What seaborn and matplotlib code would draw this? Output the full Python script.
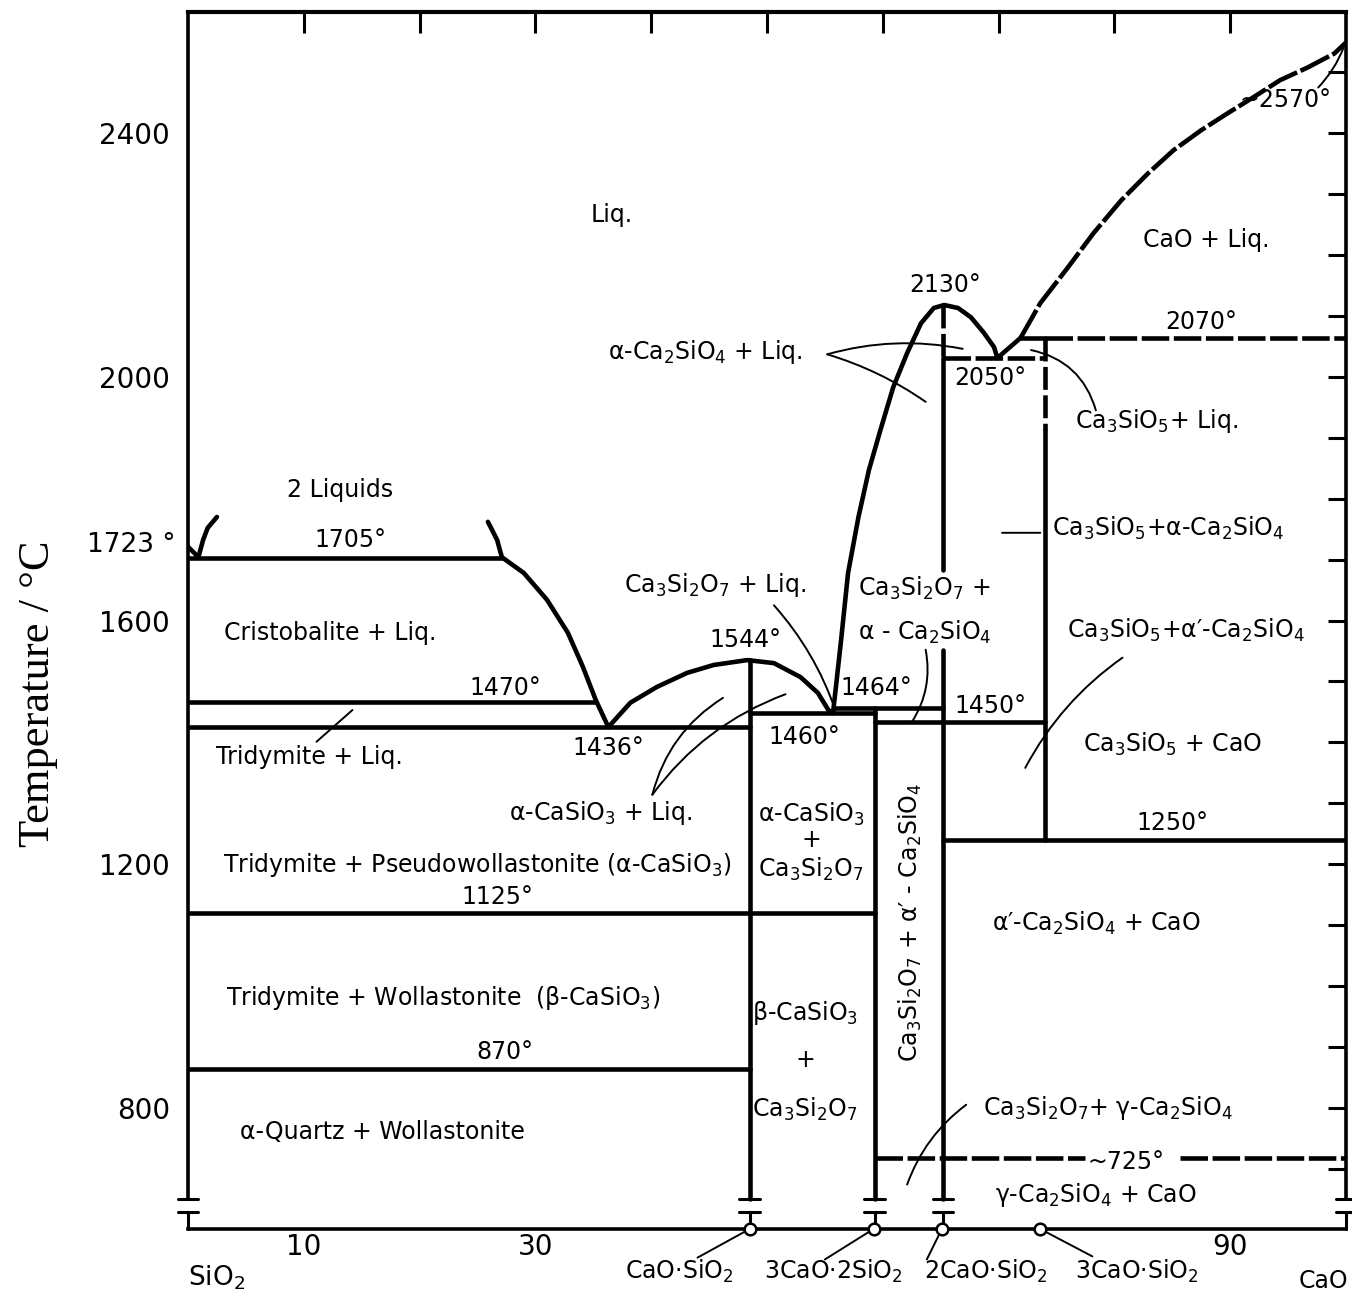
import numpy as np
import pandas as pd
import matplotlib
matplotlib.use('Agg')
import matplotlib.pyplot as plt
import seaborn as sns

sns.set_style('white')
plt.rcParams['font.family'] = ['DejaVu Sans']
plt.rcParams['mathtext.default'] = 'regular'
for key in ['text.color', 'xtick.color', 'ytick.color', 'axes.labelcolor', 'axes.edgecolor']:
    plt.rcParams[key] = 'black'
plt.rcParams['lines.solid_joinstyle'] = 'round'
plt.rcParams['lines.dash_joinstyle'] = 'round'

# compound compositions, wt% CaO
CS_X, C3S2_X, C2S_X, C3S_X = 48.5, 59.3, 65.2, 74.0
compound_x = [48.5, 59.2, 65.1, 73.6]

# liquidus curves and other boundaries (wt% CaO, deg C)
sio2_x = [0.0, 0.9]
sio2_t = [1721, 1704]
gap_left_x = [0.9, 1.3, 1.7, 2.5]
gap_left_t = [1704, 1732, 1752, 1770]
gap_right_x = [27.1, 26.7, 25.9]
gap_right_t = [1704, 1732, 1762]
cristo_x = [27.1, 29.0, 31.0, 32.8, 34.1, 35.2, 36.3]
cristo_t = [1704, 1678, 1634, 1580, 1524, 1470, 1425]
cs_liq_x = [36.3, 38.2, 40.5, 43.1, 45.4, 48.3, 50.6, 52.9, 54.4, 55.3, 55.7]
cs_liq_t = [1425, 1465, 1491, 1514, 1527, 1535, 1530, 1507, 1481, 1453, 1448]
c2s_liq_x = [55.7, 56.4, 57.0, 57.9, 58.8, 59.8, 60.9, 62.1, 63.3, 64.4, 65.3,
             66.5, 67.6, 68.7, 69.6, 69.9]
c2s_liq_t = [1448, 1568, 1678, 1770, 1847, 1913, 1983, 2039, 2088, 2113, 2118,
             2113, 2098, 2073, 2049, 2031]
c3s_liq_x = [69.9, 71.9]
c3s_liq_t = [2031, 2064]
cao_liq_x = [71.9, 73.6, 76.0, 78.2, 80.6, 82.9, 85.1, 87.5, 89.8, 92.0, 94.3, 96.7, 99.0, 100.0]
cao_liq_t = [2064, 2121, 2180, 2236, 2290, 2334, 2372, 2405, 2433, 2459, 2487, 2508, 2531, 2549]

# isotherms: temperature, start, end
iso_t = [1703, 1466, 1425, 1448, 1456, 1434, 1240, 1120, 864, 2064]
iso_x0 = [0.0, 0.0, 0.0, 48.5, 55.9, 59.3, 65.2, 0.0, 0.0, 71.9]
iso_x1 = [27.1, 35.2, 48.5, 59.3, 65.2, 74.0, 100.0, 59.3, 48.5, 74.0]
# dashed isotherms
dash_t = [718, 718, 2064, 2031]
dash_x0 = [59.3, 85.7, 74.0, 65.2]
dash_x1 = [77.5, 100.0, 100.0, 74.0]

# compound verticals (x, top, bottom)
vert_x = [48.5, 59.3, 65.2, 65.2, 74.0]
vert_top = [1535, 1456, 2031, 1552, 1913]
vert_bot = [650, 650, 1683, 650, 1240]
vdash_x = [65.2, 74.0]
vdash_top = [2118, 2064]
vdash_bot = [2031, 1913]

T_LO, T_HI = 601, 2599
BREAK_T = 650

fig = plt.figure(figsize=(13.52, 12.96), dpi=100)
ax = fig.add_axes([188 / 1352, 1 - 1229 / 1296, 1158 / 1352, 1217 / 1296])
ax.set_xlim(0, 100)
ax.set_ylim(T_LO, T_HI)


def boundary(x, t, lw=3.3, ls='-'):
    sns.lineplot(x=x, y=t, ax=ax, color='black', lw=lw, linestyle=ls,
                 estimator=None, sort=False, legend=False)


for xs, ts in [(sio2_x, sio2_t), (gap_left_x, gap_left_t), (gap_right_x, gap_right_t),
               (cristo_x, cristo_t), (cs_liq_x, cs_liq_t), (c2s_liq_x, c2s_liq_t),
               (c3s_liq_x, c3s_liq_t)]:
    boundary(xs, ts)
boundary(cao_liq_x, cao_liq_t, ls=(0, (7, 0.8)))

for t, x0, x1 in zip(iso_t, iso_x0, iso_x1):
    boundary([x0, x1], [t, t])
for t, x0, x1 in zip(dash_t, dash_x0, dash_x1):
    boundary([x0, x1], [t, t], ls=(0, (6, 1.0)))
for x, t0, t1 in zip(vert_x, vert_top, vert_bot):
    boundary([x, x], [t0, t1])
for x, t0, t1 in zip(vdash_x, vdash_top, vdash_bot):
    boundary([x, x], [t0, t1], ls=(0, (5, 1.2)))

# axis break marks at the bottom of the verticals
for x in [0.0, CS_X, C3S2_X, C2S_X, 100.0]:
    ax.plot([x - 0.9, x + 0.9], [BREAK_T, BREAK_T], color='black', lw=2.2, clip_on=False)
    ax.plot([x - 0.9, x + 0.9], [629, 629], color='black', lw=2.2, clip_on=False)
    ax.plot([x, x], [629, T_LO], color='black', lw=2.2, clip_on=False)
sns.scatterplot(x=compound_x, y=[T_LO] * 4, ax=ax, marker='o', s=70, color='white',
                edgecolor='black', linewidth=1.8, zorder=6, clip_on=False, legend=False)

# spines and ticks
for side in ['left', 'right']:
    ax.spines[side].set_bounds(BREAK_T, T_HI)
    ax.spines[side].set_linewidth(2.6)
ax.spines['top'].set_linewidth(3.0)
ax.spines['bottom'].set_linewidth(2.6)

yt = list(range(700, 2600, 100))
ax.set_yticks(yt)
ax.set_yticklabels([str(v) if v in (800, 1200, 1600, 2000, 2400) else '' for v in yt],
                   fontsize=20)
xt = list(range(10, 100, 10))
ax.set_xticks(xt)
ax.set_xticklabels([str(v) if v in (10, 30, 90) else '' for v in xt], fontsize=20)
ax.tick_params(axis='y', direction='in', length=13, width=2.2, right=True, pad=13)
ax.tick_params(axis='x', direction='in', length=15, width=2.2, top=True, pad=3)

fig.text(38 / 1352, 1 - 694 / 1296, 'Temperature / °C', rotation=90, ha='center',
         va='center', fontsize=32, family=['Liberation Serif', 'DejaVu Serif'])

FS = 17
labels = [
    (36.6, 2265, 'Liq.'),
    (87.9, 2224, 'CaO + Liq.'),
    (65.4, 2151, '2130°'),
    (87.5, 2090, '2070°'),
    (44.7, 2041, 'α-Ca$_2$SiO$_4$ + Liq.'),
    (69.3, 1998, '2050°'),
    (83.6, 1927, 'Ca$_3$SiO$_5$+ Liq.'),
    (13.1, 1814, '2 Liquids'),
    (14.0, 1732, '1705°'),
    (84.6, 1752, 'Ca$_3$SiO$_5$+α-Ca$_2$SiO$_4$'),
    (45.5, 1658, 'Ca$_3$Si$_2$O$_7$ + Liq.'),
    (86.2, 1584, 'Ca$_3$SiO$_5$+α′-Ca$_2$SiO$_4$'),
    (12.3, 1580, 'Cristobalite + Liq.'),
    (48.1, 1568, '1544°'),
    (27.4, 1489, '1470°'),
    (59.4, 1489, '1464°'),
    (69.3, 1460, '1450°'),
    (53.2, 1409, '1460°'),
    (36.3, 1391, '1436°'),
    (85.0, 1396, 'Ca$_3$SiO$_5$ + CaO'),
    (10.5, 1376, 'Tridymite + Liq.'),
    (35.6, 1284, 'α-CaSiO$_3$ + Liq.'),
    (53.8, 1282, 'α-CaSiO$_3$'),
    (53.8, 1239, '+'),
    (53.8, 1191, 'Ca$_3$Si$_2$O$_7$'),
    (85.0, 1268, '1250°'),
    (25.0, 1199, 'Tridymite + Pseudowollastonite (α-CaSiO$_3$)'),
    (26.7, 1146, '1125°'),
    (78.4, 1102, 'α′-Ca$_2$SiO$_4$ + CaO'),
    (22.0, 981, 'Tridymite + Wollastonite  (β-CaSiO$_3$)'),
    (53.3, 956, 'β-CaSiO$_3$'),
    (53.3, 879, '+'),
    (53.3, 797, 'Ca$_3$Si$_2$O$_7$'),
    (27.4, 892, '870°'),
    (16.8, 761, 'α-Quartz + Wollastonite'),
    (79.4, 800, 'Ca$_3$Si$_2$O$_7$+ γ-Ca$_2$SiO$_4$'),
    (81.0, 711, '~725°'),
    (78.4, 657, 'γ-Ca$_2$SiO$_4$ + CaO'),
    (94.8, 2454, '~2570°'),
    (42.4, 531, 'CaO·SiO$_2$'),
    (55.7, 531, '3CaO·2SiO$_2$'),
    (68.9, 531, '2CaO·SiO$_2$'),
    (81.9, 531, '3CaO·SiO$_2$'),
]
for x, t, s in labels:
    ax.text(x, t, s, ha='center', va='center', fontsize=FS)

ax.text(57.9, 1653, 'Ca$_3$Si$_2$O$_7$ +', ha='left', va='center', fontsize=FS)
ax.text(57.9, 1580, 'α - Ca$_2$SiO$_4$', ha='left', va='center', fontsize=FS)
ax.text(62.4, 1105, 'Ca$_3$Si$_2$O$_7$ + α′ - Ca$_2$SiO$_4$', ha='center', va='center',
        fontsize=FS, rotation=90)
ax.text(-1.1, 1724, '1723 °', ha='right', va='center', fontsize=19)
ax.text(0.0, 521, 'SiO$_2$', ha='left', va='center', fontsize=19)
ax.text(100.2, 515, 'CaO', ha='right', va='center', fontsize=17)

# leader lines: start, end, curvature
leaders = [
    ((55.2, 2037), (66.9, 2046), -0.12),
    ((55.2, 2037), (63.7, 1959), -0.08),
    ((78.4, 1945), (72.8, 2044), 0.3),
    ((70.3, 1744), (73.6, 1744), 0.0),
    ((50.6, 1625), (55.9, 1453), -0.1),
    ((40.1, 1314), (46.2, 1473), -0.2),
    ((40.1, 1314), (51.6, 1479), -0.15),
    ((63.7, 1552), (62.5, 1433), -0.2),
    ((11.1, 1401), (14.2, 1453), 0.0),
    ((80.7, 1539), (72.3, 1358), 0.12),
    ((67.2, 805), (62.1, 674), 0.15),
    ((97.6, 2475), (99.8, 2541), 0.1),
    ((48.5, T_LO), (44.0, 554), 0.0),
    ((59.2, T_LO), (55.0, 551), 0.0),
    ((65.1, T_LO), (63.8, 551), 0.0),
    ((73.6, T_LO), (78.1, 556), 0.0),
]
for a, b, rad in leaders:
    ax.annotate('', xy=b, xytext=a, annotation_clip=False,
                arrowprops=dict(arrowstyle='-', color='black', lw=1.4, shrinkA=0, shrinkB=0,
                                connectionstyle=f'arc3,rad={rad}'))

fig.savefig('out.png', dpi=100, facecolor='white')
